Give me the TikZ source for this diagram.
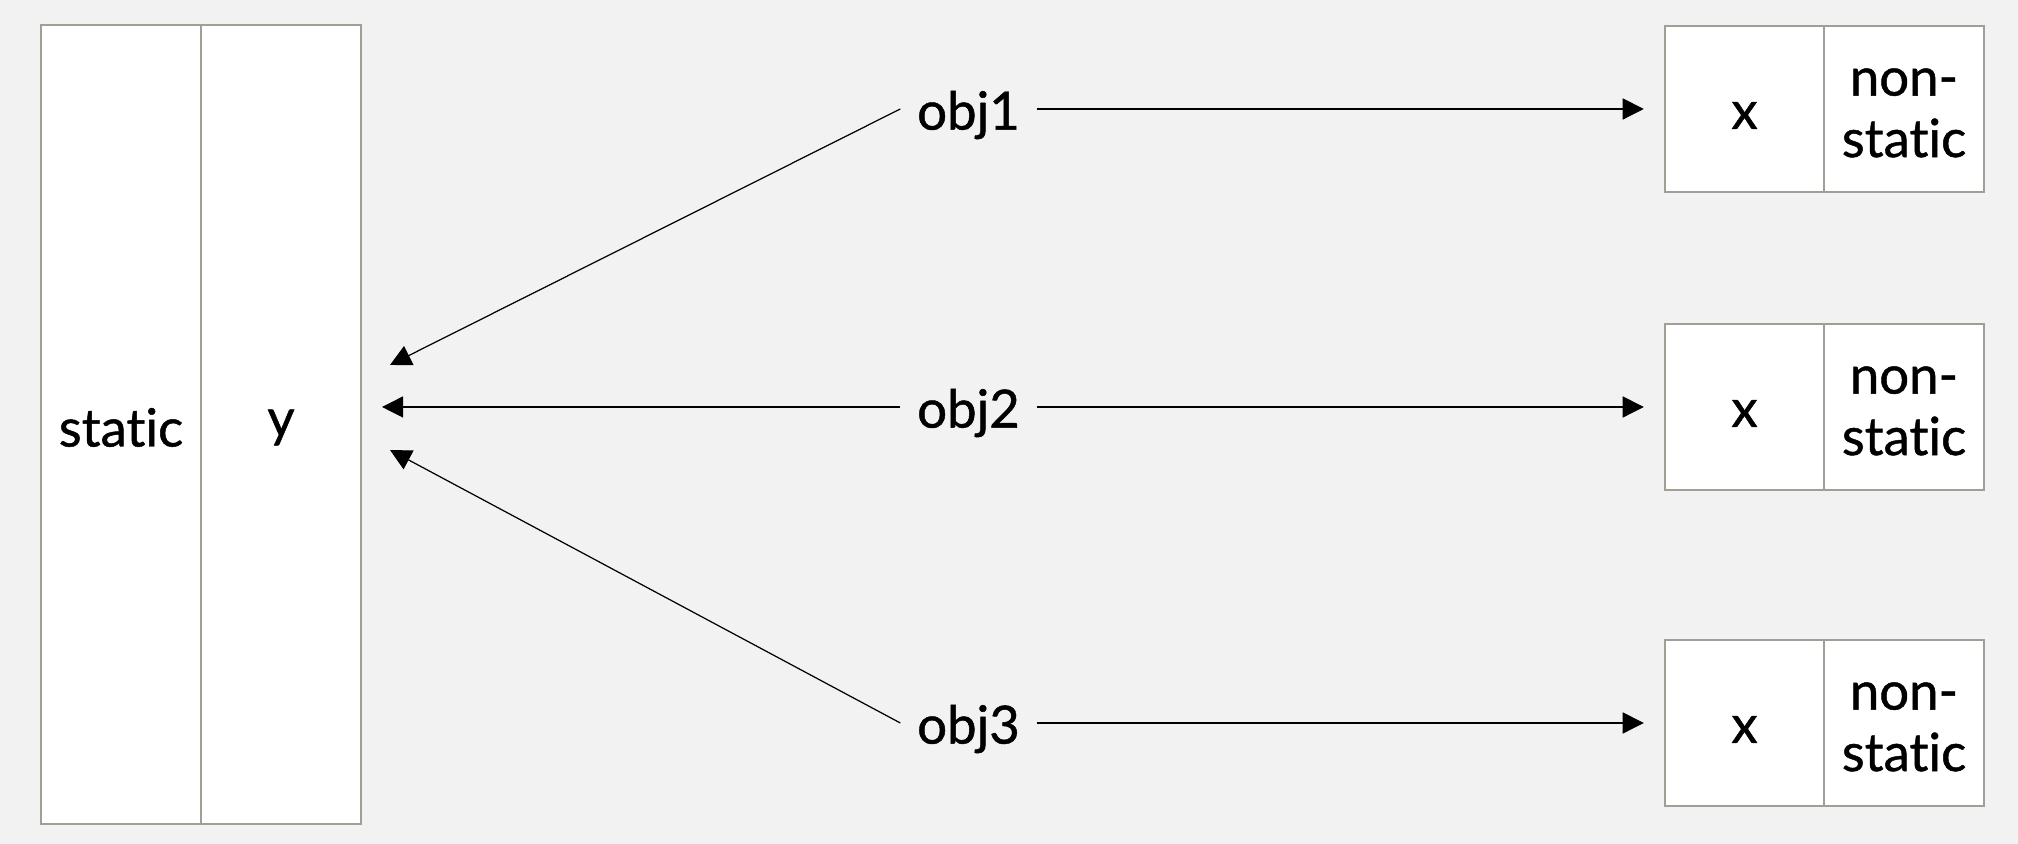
\documentclass[tikz,border=0pt]{standalone}
\usepackage{fontspec}
\setmainfont{Lato}[Ligatures=NoCommon, FakeBold=0.9]
\usetikzlibrary{arrows.meta}
\definecolor{bggray}{HTML}{F2F2F2}
\definecolor{boxline}{HTML}{A39E94}
% shift a label down without changing the size of its node
\newcommand{\lowered}[2]{\raisebox{-#1}[\height][\depth]{#2}}
\begin{document}
\begin{tikzpicture}[
  font=\fontsize{15pt}{17.5pt}\selectfont,
  cell/.style={draw=boxline, line width=0.7pt, fill=white, inner sep=0pt, align=center},
  tallcell/.style={cell, minimum width=1.6cm, minimum height=7.99cm},
  xcell/.style={cell, minimum width=1.59cm, minimum height=1.66cm},
  nscell/.style={cell, minimum width=1.6cm, minimum height=1.66cm},
  objlabel/.style={inner sep=0pt, minimum width=1.35cm, minimum height=0.4cm},
  ref/.style={draw=black, line width=0.35pt, -{Triangle[length=6pt,width=6pt]}},
]
% canvas
\fill[bggray] (0,0) rectangle (20.18,8.44);
\useasboundingbox (0,0) rectangle (20.18,8.44);

% class storage: static part
\node[tallcell] (static) at (1.21,4.195) {\lowered{0.03cm}{static}};
\node[tallcell] (y) at (2.81,4.195) {\lowered{0.03cm}{y}};

% instances: non-static parts
\foreach \i/\yy in {1/7.35, 2/4.37, 3/1.21} {
  \node[xcell] (x\i) at (17.445,\yy) {\lowered{0.065cm}{x}};
  \node[nscell] (ns\i) at (19.04,\yy)
    {\lowered{0.05cm}{\begin{tabular}{@{}c@{}}non-\\static\end{tabular}}};
  \node[objlabel] (obj\i) at (9.685,\yy) {\lowered{0.06cm}{obj\i}};
}

% arrow ends pointing at the static field
\coordinate (t1) at (3.90,4.79);
\coordinate (t2) at (3.82,4.37);
\coordinate (t3) at (3.90,3.94);

\foreach \i in {1,2,3} {
  \draw[ref] (obj\i.west) -- (t\i);
  \draw[ref, shorten >=0.2cm] (obj\i.east) -- (x\i.west);
}
\end{tikzpicture}
\end{document}
